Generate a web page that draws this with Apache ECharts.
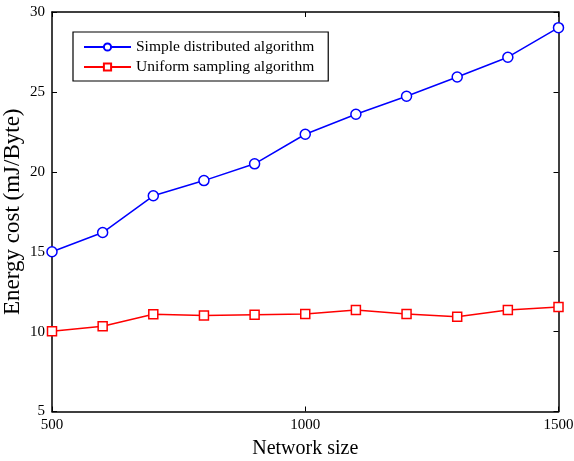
<!DOCTYPE html>
<html><head><meta charset="utf-8">
<script src="https://cdn.jsdelivr.net/npm/echarts@6/dist/echarts.min.js"></script>
<style>html,body{margin:0;padding:0;background:#fff}#c{width:574px;height:461px}</style>
</head><body><div id="c"></div>
<script>
const networkSize = [500,600,700,800,900,1000,1100,1200,1300,1400,1500];
const simpleDistributed = [15.0,16.2,18.5,19.45,20.5,22.35,23.6,24.73,25.93,27.17,29.02];
const uniformSampling = [10.02,10.33,11.08,11.0,11.05,11.1,11.35,11.1,10.93,11.35,11.54];
const seriesNames = ['Simple distributed algorithm','Uniform sampling algorithm'];
const font = 'Liberation Serif, Times New Roman, serif';
const pair = (xs, ys) => xs.map((x,i)=>[x, ys[i]]);
const chart = echarts.init(document.getElementById('c'));
const axLine = {show:true, lineStyle:{color:'#000', width:1.5}};
chart.setOption({
  animation:false,
  backgroundColor:'#fff',
  grid:{left:52, right:15.5, top:12, bottom:49.5, containLabel:false, outerBoundsMode:'none'},
  legend:{
    left:73, top:32, orient:'vertical',
    itemWidth:47, itemHeight:9, itemGap:4,
    padding:[7,14,6,10],
    borderColor:'#000', borderWidth:1.2, backgroundColor:'#fff',
    textStyle:{fontFamily:font, fontSize:15.5, color:'#000'},
    data:seriesNames
  },
  xAxis:[{
    type:'value', min:500, max:1500, interval:500,
    name:'Network size', nameLocation:'middle', nameGap:27,
    nameTextStyle:{fontFamily:font, fontSize:20, color:'#000'},
    axisLine:axLine, axisTick:{inside:true, length:5, lineStyle:{color:'#000'}},
    axisLabel:{fontFamily:font, fontSize:15, color:'#000', margin:6, formatter:v=>String(v)},
    splitLine:{show:false}
  },{
    type:'value', position:'top', min:500, max:1500, interval:500,
    axisLine:axLine, axisTick:{inside:true, length:5, lineStyle:{color:'#000'}},
    axisLabel:{show:false}, splitLine:{show:false}
  }],
  yAxis:[{
    type:'value', min:5, max:30, interval:5,
    name:'Energy cost (mJ/Byte)', nameLocation:'middle', nameGap:28, nameMoveOverlap:false,
    nameTextStyle:{fontFamily:font, fontSize:23, color:'#000'},
    axisLine:axLine, axisTick:{inside:true, length:5, lineStyle:{color:'#000'}},
    axisLabel:{fontFamily:font, fontSize:15, color:'#000', margin:7},
    splitLine:{show:false}
  },{
    type:'value', position:'right', min:5, max:30, interval:5,
    axisLine:axLine, axisTick:{inside:true, length:5, lineStyle:{color:'#000'}},
    axisLabel:{show:false}, splitLine:{show:false}
  }],
  series:[{
    name:seriesNames[0], type:'line', data:pair(networkSize, simpleDistributed),
    symbol:'circle', symbolSize:10, showAllSymbol:true,
    lineStyle:{color:'#0000ff', width:1.5},
    itemStyle:{color:'#fff', borderColor:'#0000ff', borderWidth:1.5},
    color:'#0000ff'
  },{
    name:seriesNames[1], type:'line', data:pair(networkSize, uniformSampling),
    symbol:'rect', symbolSize:9, showAllSymbol:true,
    lineStyle:{color:'#ff0000', width:1.5},
    itemStyle:{color:'#fff', borderColor:'#ff0000', borderWidth:1.5},
    color:'#ff0000'
  }]
});
</script></body></html>
